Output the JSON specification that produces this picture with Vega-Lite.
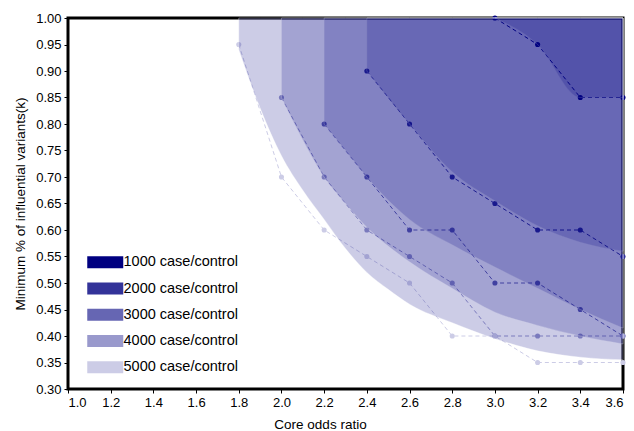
{
  "$schema": "https://vega.github.io/schema/vega-lite/v6.json",
  "width": 555,
  "height": 371,
  "autosize": "none",
  "padding": {"left": 68, "top": 18, "right": 11, "bottom": 42},
  "background": "white",
  "config": {
    "view": {"stroke": "black", "strokeWidth": 3},
    "font": "Liberation Sans",
    "axis": {
      "domain": false,
      "grid": false,
      "tickColor": "black",
      "tickSize": 4,
      "tickWidth": 1,
      "labelColor": "black",
      "labelFontSize": 13,
      "labelFont": "Liberation Sans",
      "labelOverlap": false,
      "labelPadding": 3,
      "titleFont": "Liberation Sans",
      "titleFontSize": 13.5,
      "titleFontWeight": "normal",
      "titleColor": "black"
    }
  },
  "datasets": {
    "pts": [
      {"series": "1000 case/control", "x": 3.0, "y": 1.0},
      {"series": "1000 case/control", "x": 3.2, "y": 0.95},
      {"series": "1000 case/control", "x": 3.4, "y": 0.85},
      {"series": "1000 case/control", "x": 3.6, "y": 0.85},
      {"series": "2000 case/control", "x": 2.4, "y": 0.9},
      {"series": "2000 case/control", "x": 2.6, "y": 0.8},
      {"series": "2000 case/control", "x": 2.8, "y": 0.7},
      {"series": "2000 case/control", "x": 3.0, "y": 0.65},
      {"series": "2000 case/control", "x": 3.2, "y": 0.6},
      {"series": "2000 case/control", "x": 3.4, "y": 0.6},
      {"series": "2000 case/control", "x": 3.6, "y": 0.55},
      {"series": "3000 case/control", "x": 2.2, "y": 0.8},
      {"series": "3000 case/control", "x": 2.4, "y": 0.7},
      {"series": "3000 case/control", "x": 2.6, "y": 0.6},
      {"series": "3000 case/control", "x": 2.8, "y": 0.6},
      {"series": "3000 case/control", "x": 3.0, "y": 0.5},
      {"series": "3000 case/control", "x": 3.2, "y": 0.5},
      {"series": "3000 case/control", "x": 3.4, "y": 0.45},
      {"series": "3000 case/control", "x": 3.6, "y": 0.4},
      {"series": "4000 case/control", "x": 2.0, "y": 0.85},
      {"series": "4000 case/control", "x": 2.2, "y": 0.7},
      {"series": "4000 case/control", "x": 2.4, "y": 0.6},
      {"series": "4000 case/control", "x": 2.6, "y": 0.55},
      {"series": "4000 case/control", "x": 2.8, "y": 0.5},
      {"series": "4000 case/control", "x": 3.0, "y": 0.4},
      {"series": "4000 case/control", "x": 3.2, "y": 0.4},
      {"series": "4000 case/control", "x": 3.4, "y": 0.4},
      {"series": "4000 case/control", "x": 3.6, "y": 0.4},
      {"series": "5000 case/control", "x": 1.8, "y": 0.95},
      {"series": "5000 case/control", "x": 2.0, "y": 0.7},
      {"series": "5000 case/control", "x": 2.2, "y": 0.6},
      {"series": "5000 case/control", "x": 2.4, "y": 0.55},
      {"series": "5000 case/control", "x": 2.6, "y": 0.5},
      {"series": "5000 case/control", "x": 2.8, "y": 0.4},
      {"series": "5000 case/control", "x": 3.0, "y": 0.4},
      {"series": "5000 case/control", "x": 3.2, "y": 0.35},
      {"series": "5000 case/control", "x": 3.4, "y": 0.35},
      {"series": "5000 case/control", "x": 3.6, "y": 0.35}
    ],
    "areas": [
      {"series": "1000 case/control", "x": 3.0, "y": 1.0},
      {"series": "1000 case/control", "x": 3.2, "y": 0.95},
      {"series": "1000 case/control", "x": 3.4, "y": 0.85},
      {"series": "1000 case/control", "x": 3.6, "y": 0.85},
      {"series": "2000 case/control", "x": 2.4, "y": 0.9},
      {"series": "2000 case/control", "x": 2.6, "y": 0.8},
      {"series": "2000 case/control", "x": 2.8, "y": 0.71},
      {"series": "2000 case/control", "x": 3.0, "y": 0.655},
      {"series": "2000 case/control", "x": 3.2, "y": 0.608},
      {"series": "2000 case/control", "x": 3.4, "y": 0.577},
      {"series": "2000 case/control", "x": 3.6, "y": 0.56},
      {"series": "3000 case/control", "x": 2.2, "y": 0.8},
      {"series": "3000 case/control", "x": 2.3, "y": 0.75},
      {"series": "3000 case/control", "x": 2.4, "y": 0.7},
      {"series": "3000 case/control", "x": 2.6, "y": 0.62},
      {"series": "3000 case/control", "x": 2.8, "y": 0.572},
      {"series": "3000 case/control", "x": 3.0, "y": 0.53},
      {"series": "3000 case/control", "x": 3.2, "y": 0.49},
      {"series": "3000 case/control", "x": 3.4, "y": 0.45},
      {"series": "3000 case/control", "x": 3.6, "y": 0.415},
      {"series": "4000 case/control", "x": 2.0, "y": 0.85},
      {"series": "4000 case/control", "x": 2.1, "y": 0.77},
      {"series": "4000 case/control", "x": 2.2, "y": 0.7},
      {"series": "4000 case/control", "x": 2.3, "y": 0.65},
      {"series": "4000 case/control", "x": 2.4, "y": 0.605},
      {"series": "4000 case/control", "x": 2.6, "y": 0.54},
      {"series": "4000 case/control", "x": 2.8, "y": 0.49},
      {"series": "4000 case/control", "x": 3.0, "y": 0.445},
      {"series": "4000 case/control", "x": 3.2, "y": 0.42},
      {"series": "4000 case/control", "x": 3.4, "y": 0.4},
      {"series": "4000 case/control", "x": 3.6, "y": 0.385},
      {"series": "5000 case/control", "x": 1.8, "y": 0.94},
      {"series": "5000 case/control", "x": 1.9, "y": 0.83},
      {"series": "5000 case/control", "x": 2.0, "y": 0.74},
      {"series": "5000 case/control", "x": 2.1, "y": 0.675},
      {"series": "5000 case/control", "x": 2.2, "y": 0.62},
      {"series": "5000 case/control", "x": 2.3, "y": 0.565},
      {"series": "5000 case/control", "x": 2.4, "y": 0.52},
      {"series": "5000 case/control", "x": 2.5, "y": 0.488},
      {"series": "5000 case/control", "x": 2.6, "y": 0.46},
      {"series": "5000 case/control", "x": 2.8, "y": 0.425},
      {"series": "5000 case/control", "x": 3.0, "y": 0.395},
      {"series": "5000 case/control", "x": 3.2, "y": 0.372},
      {"series": "5000 case/control", "x": 3.4, "y": 0.36},
      {"series": "5000 case/control", "x": 3.6, "y": 0.355}
    ]
  },
  "encoding": {
    "x": {"field": "x", "type": "quantitative", "scale": {"domain": [1.0, 3.6], "nice": false, "zero": false},
          "axis": {"values": [1.0, 1.2, 1.4, 1.6, 1.8, 2.0, 2.2, 2.4, 2.6, 2.8, 3.0, 3.2, 3.4, 3.6], "format": ".1f", "title": "Core odds ratio", "titlePadding": 8, "titleX": 252}},
    "y": {"field": "y", "type": "quantitative", "scale": {"domain": [0.3, 1.0], "nice": false, "zero": false},
          "axis": {"values": [0.3, 0.35, 0.4, 0.45, 0.5, 0.55, 0.6, 0.65, 0.7, 0.75, 0.8, 0.85, 0.9, 0.95, 1.0], "format": ".2f", "title": "Minimum % of influential variants(k)", "titlePadding": 8}}
  },
  "layer": [
    {
      "data": {"name": "pts"},
      "mark": {"type": "line", "strokeDash": [4, 3], "strokeWidth": 1},
      "encoding": {
        "color": {"field": "series", "type": "nominal"}
      }
    },
    {
      "data": {"name": "pts"},
      "mark": {"type": "point", "filled": true, "size": 26, "opacity": 1, "strokeWidth": 0.6},
      "encoding": {
        "color": {"field": "series", "type": "nominal",
                  "scale": {"domain": ["1000 case/control", "2000 case/control", "3000 case/control", "4000 case/control", "5000 case/control"],
                            "range": ["#000080", "#333399", "#6666b3", "#9999cc", "#ccccE6"]},
                  "legend": {"orient": "none", "legendX": 30, "legendY": 237, "title": null, "padding": 0,
                             "symbolType": "M-3,-1L3,-1L3,1L-3,1Z", "symbolSize": 144, "symbolStrokeWidth": 0, "symbolOpacity": 1,
                             "symbolDash": [], "labelFontSize": 14.5, "labelFont": "Liberation Sans", "labelColor": "black", "labelOffset": 11,
                             "rowPadding": 11.25}}
      }
    },
    {
      "data": {"name": "areas"},
      "mark": {"type": "area", "interpolate": "monotone", "fill": "#000080", "fillOpacity": 0.2, "stroke": "white", "strokeOpacity": 0.35, "strokeWidth": 1},
      "encoding": {
        "y2": {"datum": 1.0},
        "detail": {"field": "series"}
      }
    }
  ]
}
